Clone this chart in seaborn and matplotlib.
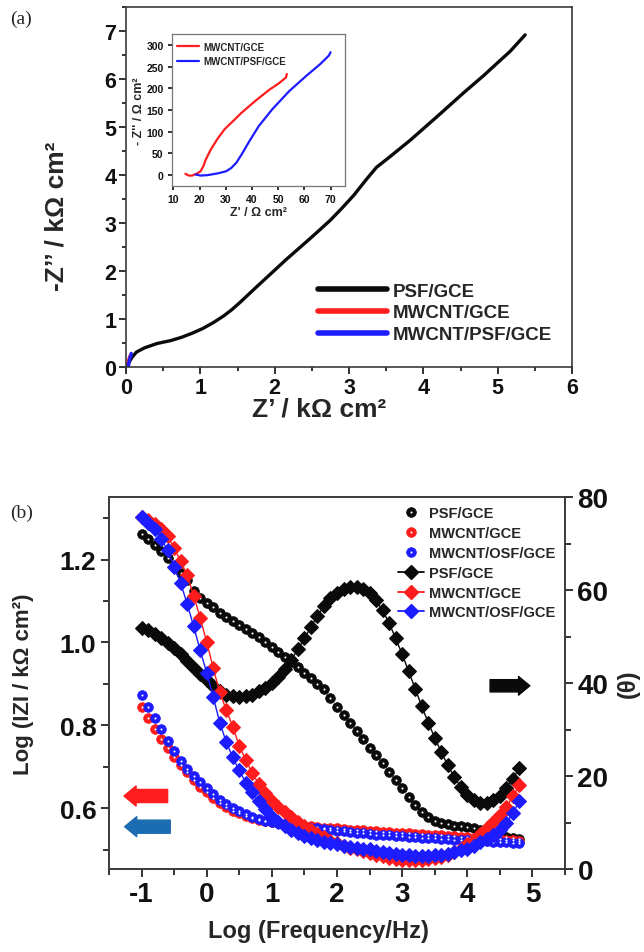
import matplotlib
matplotlib.use("Agg")
import matplotlib.pyplot as plt
import seaborn as sns
from matplotlib.lines import Line2D
from matplotlib.ticker import MultipleLocator, FormatStrFormatter

# ---- (a) Nyquist plot, kOhm cm2 ----
psf_zre = [0.0, 0.03, 0.08, 0.14, 0.25, 0.42, 0.60, 0.75, 0.90, 1.03, 1.17, 1.31, 1.42, 1.53,
           1.64, 1.75, 1.89, 2.03, 2.17, 2.31, 2.45, 2.58, 2.75, 2.90, 3.06, 3.24, 3.37, 3.55,
           3.82, 4.18, 4.54, 4.81, 5.17, 5.37]
psf_zim = [0.0, 0.07, 0.20, 0.31, 0.40, 0.49, 0.55, 0.62, 0.71, 0.80, 0.92, 1.06, 1.19, 1.34,
           1.50, 1.66, 1.86, 2.06, 2.26, 2.45, 2.64, 2.82, 3.06, 3.30, 3.57, 3.92, 4.16, 4.38,
           4.72, 5.21, 5.71, 6.07, 6.58, 6.92]

# inset, Ohm cm2
mw_zre = [14.6, 15.9, 17.2, 19.1, 20.4, 21.5, 22.4, 24.3, 26.9, 29.6, 32.2, 36.1, 41.3, 46.5,
          50.4, 53.0, 53.3]
mw_zim = [3, -1, -1, 4, 9, 21, 36, 59, 84, 106, 121, 144, 171, 196, 212, 225, 233]
mwpsf_zre = [18.5, 20.4, 23.0, 26.9, 30.2, 32.2, 34.1, 36.1, 38.7, 42.6, 47.8, 54.3, 60.8,
             66.1, 69.3, 70.0]
mwpsf_zim = [1.5, -1, 0, 4, 9, 17, 29, 48, 75, 113, 152, 194, 229, 256, 275, 283]

# ---- (b) Bode plot ----
logf = [-1.0, -0.9, -0.8, -0.7, -0.6, -0.5, -0.4, -0.3, -0.2, -0.1,
        0.0, 0.1, 0.2, 0.3, 0.4, 0.5, 0.6, 0.7, 0.8, 0.9,
        1.0, 1.1, 1.2, 1.3, 1.4, 1.5, 1.6, 1.7, 1.8, 1.9,
        2.0, 2.1, 2.2, 2.3, 2.4, 2.5, 2.6, 2.7, 2.8, 2.9,
        3.0, 3.1, 3.2, 3.3, 3.4, 3.5, 3.6, 3.7, 3.8, 3.9,
        4.0, 4.1, 4.2, 4.3, 4.4, 4.5, 4.6, 4.7, 4.8]

psf_logz = [1.262, 1.250, 1.236, 1.220, 1.203, 1.185, 1.168, 1.150, 1.125, 1.108,
            1.096, 1.085, 1.072, 1.062, 1.052, 1.042, 1.032, 1.022, 1.012, 1.000,
            0.988, 0.976, 0.964, 0.952, 0.940, 0.926, 0.913, 0.900, 0.887, 0.866,
            0.845, 0.825, 0.805, 0.785, 0.766, 0.746, 0.727, 0.708, 0.688, 0.668,
            0.648, 0.628, 0.608, 0.590, 0.578, 0.570, 0.565, 0.561, 0.558, 0.556,
            0.554, 0.551, 0.547, 0.543, 0.539, 0.535, 0.531, 0.528, 0.525]
mw_logz = [0.845, 0.818, 0.792, 0.768, 0.745, 0.724, 0.705, 0.687, 0.668, 0.652,
           0.638, 0.625, 0.613, 0.603, 0.594, 0.587, 0.580, 0.575, 0.571, 0.568,
           0.566, 0.564, 0.562, 0.561, 0.559, 0.558, 0.556, 0.555, 0.553, 0.552,
           0.551, 0.549, 0.548, 0.547, 0.546, 0.545, 0.544, 0.543, 0.542, 0.541,
           0.540, 0.539, 0.538, 0.537, 0.536, 0.535, 0.534, 0.533, 0.532, 0.531,
           0.530, 0.529, 0.528, 0.527, 0.526, 0.525, 0.524, 0.522, 0.520]
mwosf_logz = [0.873, 0.845, 0.818, 0.790, 0.763, 0.737, 0.714, 0.695, 0.678, 0.662,
              0.648, 0.634, 0.620, 0.609, 0.600, 0.592, 0.585, 0.579, 0.574, 0.570,
              0.567, 0.564, 0.562, 0.559, 0.557, 0.555, 0.553, 0.551, 0.549, 0.547,
              0.545, 0.544, 0.542, 0.541, 0.539, 0.538, 0.536, 0.535, 0.534, 0.533,
              0.532, 0.531, 0.530, 0.529, 0.528, 0.527, 0.526, 0.525, 0.524, 0.523,
              0.522, 0.521, 0.521, 0.520, 0.519, 0.518, 0.517, 0.516, 0.515]

psf_phase = [51.8, 51.3, 50.5, 49.6, 48.6, 47.5, 46.2, 44.8, 43.3, 42.0,
             40.6, 39.3, 38.3, 37.5, 37.1, 37.0, 37.1, 37.5, 38.2, 39.0,
             40.0, 41.3, 43.0, 45.0, 47.3, 49.6, 52.0, 54.5, 56.5, 58.2,
             59.4, 60.2, 60.6, 60.7, 60.3, 59.3, 57.8, 55.6, 52.9, 49.6,
             46.2, 42.5, 38.8, 35.0, 31.5, 28.2, 25.2, 22.3, 19.8, 17.6,
             15.9, 14.8, 14.3, 14.3, 14.8, 15.8, 17.4, 19.4, 21.7]
mw_phase = [75.7, 75.0, 74.2, 73.2, 71.6, 69.0, 66.2, 63.2, 58.8, 54.0,
            48.8, 43.2, 38.0, 34.2, 30.6, 26.5, 23.4, 20.6, 18.3, 16.3,
            14.7, 13.4, 12.3, 11.2, 10.2, 9.3, 8.4, 7.6, 6.8, 6.1,
            5.5, 5.0, 4.6, 4.2, 3.8, 3.4, 3.0, 2.7, 2.4, 2.2,
            2.0, 1.9, 1.9, 2.0, 2.1, 2.3, 2.6, 3.0, 3.6, 4.4,
            5.3, 6.3, 7.5, 8.8, 10.2, 11.7, 13.4, 15.6, 18.0]
mwosf_phase = [75.8, 74.5, 73.2, 71.0, 68.5, 65.0, 61.5, 57.0, 52.2, 47.0,
               42.2, 37.0, 31.5, 27.3, 24.0, 21.2, 18.6, 16.5, 14.6, 12.8,
               11.2, 10.1, 9.2, 8.4, 7.8, 7.2, 6.7, 6.3, 5.9, 5.6,
               5.3, 5.0, 4.8, 4.6, 4.4, 4.2, 3.9, 3.7, 3.5, 3.3,
               3.1, 3.0, 2.9, 2.9, 2.9, 3.0, 3.1, 3.3, 3.6, 4.0,
               4.4, 5.0, 5.7, 6.4, 7.3, 8.4, 9.9, 12.0, 14.6]

RED = "#ff1c1c"
BLUE = "#1c1cff"
BLK = "#0a0a0a"

sns.set_theme(style="ticks")
plt.rcParams["font.family"] = ["Liberation Sans", "DejaVu Sans"]
plt.rcParams["font.weight"] = "bold"
plt.rcParams["axes.labelweight"] = "bold"
plt.rcParams["axes.unicode_minus"] = False


def style_axis(ax, size, maj=5, mnr=3, pad=3):
    ax.tick_params(which="both", direction="out", width=1.2, labelsize=size, colors="#111111",
                   pad=pad)
    ax.tick_params(which="major", length=maj)
    ax.tick_params(which="minor", length=mnr)
    for sp in ax.spines.values():
        sp.set_color("#3a3a3a")
        sp.set_linewidth(1.2)
        sp.set_visible(True)


fig = plt.figure(figsize=(6.44, 9.53), dpi=100)

# ===== panel (a) =====
ax1 = fig.add_axes([126 / 644, 1 - 368 / 953, 446 / 644, 360 / 953])
sns.lineplot(x=psf_zre, y=psf_zim, sort=False, estimator=None, color=BLK, lw=2.4, ax=ax1,
             label="PSF/GCE")
sns.lineplot(x=[v / 1000 for v in mw_zre], y=[v / 1000 for v in mw_zim], sort=False,
             estimator=None, color=RED, lw=2.4, ax=ax1, label="MWCNT/GCE")
sns.lineplot(x=[v / 1000 for v in mwpsf_zre], y=[v / 1000 for v in mwpsf_zim], sort=False,
             estimator=None, color=BLUE, lw=2.4, ax=ax1, label="MWCNT/PSF/GCE")
ax1.set_xlim(0, 6)
ax1.set_ylim(0, 7.5)
ax1.xaxis.set_major_locator(MultipleLocator(1))
ax1.xaxis.set_minor_locator(MultipleLocator(0.5))
ax1.yaxis.set_major_locator(MultipleLocator(1))
ax1.yaxis.set_minor_locator(MultipleLocator(0.5))
style_axis(ax1, 15.5, pad=2)
ax1.set_xlabel("Z’ / kΩ cm²", fontsize=19)
ax1.set_ylabel("-Z’’ / kΩ cm²", fontsize=19)
ax1.xaxis.set_label_coords(0.433, -0.082)
ax1.yaxis.set_label_coords(-0.13, 0.42)
leg = ax1.legend(loc="upper left", bbox_to_anchor=(0.43, 0.235), frameon=False, fontsize=13.5,
                 handlelength=3.7, handletextpad=0.3, labelspacing=0.25, borderpad=0,
                 borderaxespad=0)
for ln in leg.get_lines():
    ln.set_linewidth(4)

# inset
ins = fig.add_axes([172 / 644, 1 - 187 / 953, 173 / 644, 152 / 953])
sns.lineplot(x=mw_zre, y=mw_zim, sort=False, estimator=None, color=RED, lw=1.6, ax=ins,
             label="MWCNT/GCE")
sns.lineplot(x=mwpsf_zre, y=mwpsf_zim, sort=False, estimator=None, color=BLUE, lw=1.6, ax=ins,
             label="MWCNT/PSF/GCE")
ins.set_xlim(9.5, 75.5)
ins.set_ylim(-25, 325)
ins.xaxis.set_major_locator(MultipleLocator(10))
ins.yaxis.set_major_locator(MultipleLocator(50))
style_axis(ins, 7.5, maj=3, mnr=2)
for sp in ins.spines.values():
    sp.set_color("#777777")
    sp.set_linewidth(0.9)
ins.set_xlabel("Z' / Ω cm²", fontsize=9, labelpad=1)
ins.set_ylabel("- Z'' / Ω cm²", fontsize=9, labelpad=1)
ins.legend(loc="upper left", bbox_to_anchor=(0.03, 0.95), frameon=False, fontsize=7,
           handlelength=2.2, handletextpad=0.5, labelspacing=0.45, borderpad=0, borderaxespad=0)

# ===== panel (b) =====
ax2 = fig.add_axes([109 / 644, 1 - 870 / 953, 456 / 644, 372 / 953])
ax3 = ax2.twinx()

for vals, c in [(psf_logz, BLK), (mw_logz, RED), (mwosf_logz, BLUE)]:
    sns.lineplot(x=logf, y=vals, ax=ax2, color=c, ls="none", marker="o", markersize=7,
                 markerfacecolor=c, markeredgecolor=c, markeredgewidth=0.5,
                 sort=False, estimator=None, zorder=3)
    sns.lineplot(x=logf, y=vals, ax=ax2, color="white", ls="none", marker="o", markersize=1.5,
                 markerfacecolor="white", markeredgewidth=0, sort=False, estimator=None,
                 zorder=4)

for vals, c in [(psf_phase, BLK), (mw_phase, RED), (mwosf_phase, BLUE)]:
    sns.lineplot(x=logf, y=vals, ax=ax3, color=c, lw=1.0, marker="D", markersize=7.5,
                 markeredgecolor=c, sort=False, estimator=None)

ax2.set_xlim(-1.5, 5.5)
ax2.set_ylim(0.453, 1.351)
ax3.set_ylim(0, 80)
ax2.xaxis.set_major_locator(MultipleLocator(1))
ax2.xaxis.set_minor_locator(MultipleLocator(0.5))
ax2.yaxis.set_major_locator(MultipleLocator(0.2))
ax2.yaxis.set_minor_locator(MultipleLocator(0.1))
ax3.yaxis.set_major_locator(MultipleLocator(20))
ax3.yaxis.set_minor_locator(MultipleLocator(10))
style_axis(ax2, 19, maj=6, mnr=4)
style_axis(ax3, 20, maj=6, mnr=4)
ax2.tick_params(axis="x", labelsize=20)
ax2.yaxis.set_major_formatter(FormatStrFormatter("%.1f"))
ax2.set_xlabel("Log (Frequency/Hz)", fontsize=17)
ax2.set_ylabel("Log (IZI / kΩ cm²)", fontsize=16)
ax3.set_ylabel("(θ)", fontsize=17, labelpad=6)
ax2.xaxis.set_label_coords(0.46, -0.135)
ax2.yaxis.set_label_coords(-0.165, 0.5)

# arrows
arrow_kw = "simple,head_length=0.58,head_width=0.96,tail_width=0.63"
ax3.annotate("", xy=(-1.27, 15.7), xytext=(-0.6, 15.7),
             arrowprops=dict(arrowstyle=arrow_kw, color=RED, mutation_scale=15,
                             shrinkA=0, shrinkB=0))
ax3.annotate("", xy=(-1.26, 9.1), xytext=(-0.56, 9.1),
             arrowprops=dict(arrowstyle=arrow_kw, color="#1b6cb0", mutation_scale=15,
                             shrinkA=0, shrinkB=0))
ax3.annotate("", xy=(4.96, 39.4), xytext=(4.35, 39.4),
             arrowprops=dict(arrowstyle=arrow_kw, color=BLK, mutation_scale=14,
                             shrinkA=0, shrinkB=0))


# legend for (b)
def ball(c):
    return (Line2D([], [], ls="", marker="o", ms=7, mfc=c, mec=c, mew=0.5),
            Line2D([], [], ls="", marker="o", ms=1.5, mfc="white", mec="white", mew=0))


def diamond(c):
    return Line2D([], [], color=c, lw=1.3, marker="D", ms=7.5, mfc=c, mec=c)


handles = [ball(BLK), ball(RED), ball(BLUE), diamond(BLK), diamond(RED), diamond(BLUE)]
labels = ["PSF/GCE", "MWCNT/GCE", "MWCNT/OSF/GCE", "PSF/GCE", "MWCNT/GCE", "MWCNT/OSF/GCE"]
ax3.legend(handles, labels, loc="upper left", bbox_to_anchor=(0.634, 0.975), frameon=False,
           fontsize=10.5, handlelength=1.8, handletextpad=0.3, labelspacing=0.4,
           borderpad=0, borderaxespad=0)

fig.text(10 / 644, 1 - 19 / 953, "(a)", fontsize=14, fontweight="normal",
         family=["Liberation Serif", "DejaVu Serif"], va="center")
fig.text(10 / 644, 1 - 513 / 953, "(b)", fontsize=14, fontweight="normal",
         family=["Liberation Serif", "DejaVu Serif"], va="center")

fig.savefig("out.png", dpi=100)
